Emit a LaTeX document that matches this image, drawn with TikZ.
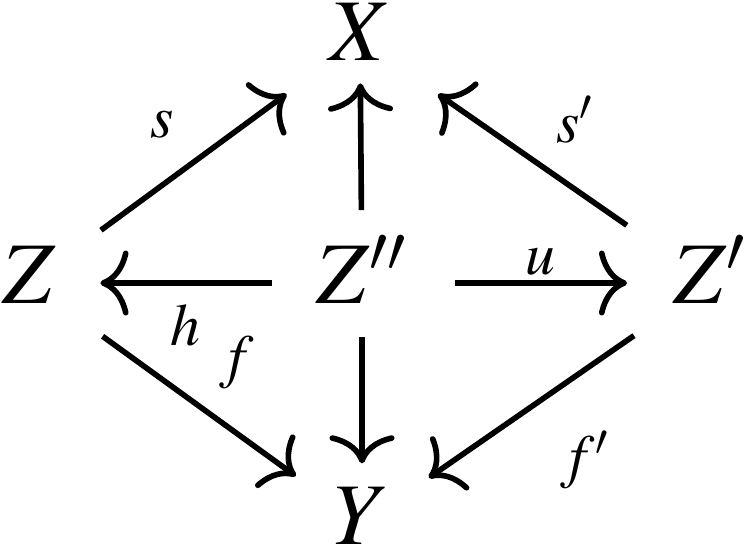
\documentclass[tikz,border=0pt]{standalone}
\usepackage{mathptmx}
\usepackage{tikz}
\usetikzlibrary{arrows.meta,positioning}

\tikzset{
  obj/.style={inner sep=0pt, outer sep=0pt, text height=16.5pt, text depth=5pt,
    font=\fontsize{25}{29}\selectfont},
  lab/.style={inner sep=0pt, font=\fontsize{17}{20}\selectfont},
  arr/.style={line width=1.6pt,
    -{Computer Modern Rightarrow[length=8pt,width=18.5pt,line width=1.6pt]}}
}

\begin{document}
\begin{tikzpicture}
  \useasboundingbox (0,0) rectangle (7.5,5.5);

  \node[obj, minimum width=0.50cm] (x)   at (3.60,5.10) {$X$};
  \node[obj, minimum width=0.55cm] (z)   at (0.29,2.67) {$Z$};
  \node[obj, minimum width=0.97cm] (zpp) at (3.62,2.67) {$Z''$};
  \node[obj, minimum width=0.78cm] (zp)  at (7.10,2.67) {$Z'$};
  \node[obj, minimum width=0.50cm] (y)   at (3.62,0.26) {$Y$};

  \draw[arr, shorten <=15.7pt, shorten >=15pt]   (z) -- (x);
  \draw[arr, shorten <=10pt, shorten >=1.6pt]    (zpp) -- (x);
  \draw[arr, shorten <=15.3pt, shorten >=16.3pt] (zp) -- (x);
  \draw[arr, shorten <=11.7pt, shorten >=12.5pt] (zpp) -- (z);
  \draw[arr, shorten <=12.8pt, shorten >=12.5pt] (zpp) -- (zp);
  \draw[arr, shorten <=16.2pt, shorten >=13.5pt] (z) -- (y);
  \draw[arr, shorten <=4.7pt, shorten >=6.5pt]   (zpp) -- (y);
  \draw[arr, shorten <=12.8pt, shorten >=13.5pt] (zp) -- (y);

  \node[lab] (ls)  at (1.62,4.25) {$s$};
  \node[lab] (lsp) at (5.75,4.30) {$s'$};
  \node[lab] (lu)  at (5.40,2.88) {$u$};
  \node[lab] (lh)  at (1.85,2.25) {$h$};
  \node[lab] (lf)  at (2.37,1.87) {$f$};
  \node[lab] (lfp) at (5.85,0.90) {$f'$};
\end{tikzpicture}
\end{document}
